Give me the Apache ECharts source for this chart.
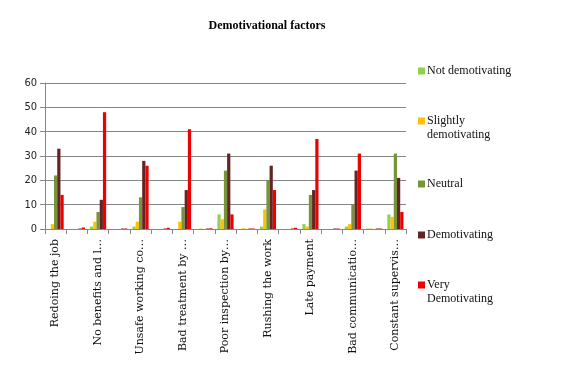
<!DOCTYPE html>
<html><head><meta charset="utf-8">
<script src="https://cdn.jsdelivr.net/npm/echarts@6/dist/echarts.min.js"></script>
<style>html,body{margin:0;padding:0;background:#fff}#c{width:573px;height:369px}</style>
</head><body><div id="c"></div>
<script>
var categories = ["Redoing the job", "", "No benefits and l\u2026", "", "Unsafe working co\u2026", "", "Bad treatment by \u2026", "", "Poor inspection by\u2026", "", "Rushing the work", "", "Late payment", "", "Bad communicatio\u2026", "", "Constant supervis\u2026"];
var seriesNames = ["Not demotivating", "Slightly\ndemotivating", "Neutral", "Demotivating", "Very\nDemotivating"];
var notDemotivating     = [0, 0, 1, 0, 1, 0, 0, 0, 6, 0, 1, 0, 2, 0, 1, 0.2, 6];
var slightlyDemotivating= [2, 0, 3, 0, 3, 0, 3, 0.2, 4, 0.3, 8, 0, 1, 0, 2, 0.2, 5];
var neutral             = [22, 0, 7, 0, 13, 0, 9, 0, 24, 0, 20, 0, 14, 0, 10, 0, 31];
var demotivating        = [33, 0.2, 12, 0.2, 28, 0.2, 16, 0.2, 31, 0.2, 26, 0.2, 16, 0.2, 24, 0.2, 21];
var veryDemotivating    = [14, 0.6, 48, 0.2, 26, 0.5, 41, 0.3, 6, 0.2, 16, 0.5, 37, 0.2, 31, 0.2, 7];
var yTicks = [0, 10, 20, 30, 40, 50, 60];

var colors = ["#92D050", "#FFC000", "#77933C", "#632523", "#EE0000"];
var values = [notDemotivating, slightlyDemotivating, neutral, demotivating, veryDemotivating];
var legendCenters = [70, 120, 183, 234, 284];

var chart = echarts.init(document.getElementById('c'), null, {renderer: 'canvas'});
var series = values.map(function (v, i) {
  return {name: seriesNames[i], type: 'bar', data: v, barGap: '0%', barCategoryGap: '24%',
    itemStyle: {color: colors[i]}, animation: false};
});
var legendFont = {fontFamily: 'Liberation Serif', fontSize: 12, color: '#111'};
var legends = [];
var graphics = [];
seriesNames.forEach(function (n, i) {
  var lines = n.split('\n');
  legends.push({data: [n], left: 418, top: legendCenters[i] - 6, orient: 'vertical', itemWidth: 7, itemHeight: 7,
    itemGap: 0, padding: 0, icon: 'rect',
    formatter: function () { return lines[0]; },
    textStyle: Object.assign({lineHeight: 14, padding: [0, 0, 0, -3]}, legendFont)});
  if (lines.length > 1) {
    graphics.push({type: 'text', left: 427, top: legendCenters[i] + 9, silent: true,
      style: Object.assign({text: lines[1], fill: '#111', font: '12px "Liberation Serif"'})});
  }
});
chart.setOption({
  animation: false,
  title: {text: 'Demotivational factors', left: 262, top: 15, textAlign: 'center',
    textStyle: {fontFamily: 'Liberation Serif', fontWeight: 'bold', fontSize: 12, color: '#000'}},
  legend: legends,
  graphic: graphics,
  grid: {left: 45, right: 167, top: 83, bottom: 140, containLabel: false},
  xAxis: {type: 'category', data: categories,
    axisLine: {lineStyle: {color: '#868686'}},
    axisTick: {show: true, interval: 0, length: 5, lineStyle: {color: '#868686'}},
    axisLabel: {interval: 0, rotate: 90, margin: 10, fontFamily: 'DejaVu Serif', fontSize: 11, color: '#111'}},
  yAxis: {type: 'value', min: yTicks[0], max: yTicks[yTicks.length - 1], interval: 10,
    axisLine: {show: true, lineStyle: {color: '#868686'}},
    axisTick: {show: true, length: 5, lineStyle: {color: '#868686'}},
    splitLine: {lineStyle: {color: '#868686'}},
    axisLabel: {margin: 8, fontFamily: 'DejaVu Sans Condensed', fontSize: 11, color: '#222'}},
  series: series
});
</script></body></html>
